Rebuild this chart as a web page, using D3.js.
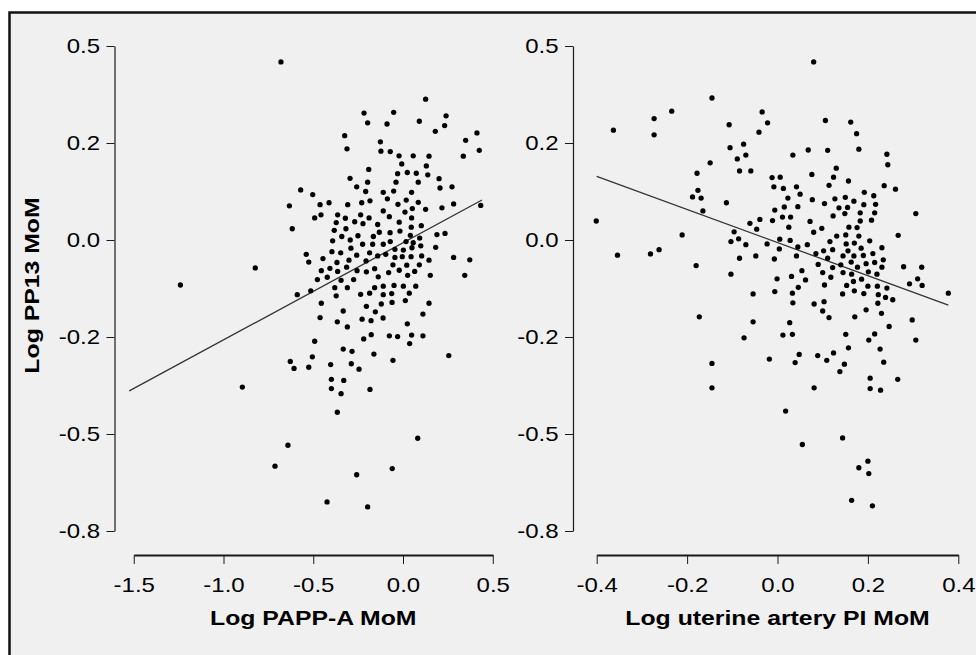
<!DOCTYPE html>
<html>
<head>
<meta charset="utf-8">
<script src="https://cdn.jsdelivr.net/npm/d3@7"></script>
<style>
  html, body { margin: 0; padding: 0; background: #fff; }
  svg { display: block; }
</style>
</head>
<body>
<script>
// Log PP13 MoM against log PAPP-A MoM: [x, y]
const pappaPoints = [
  [0.126,0.363],[-0.217,0.327],[-0.052,0.329],[-0.197,0.302],[-0.089,0.299],[0.091,0.306],[0.240,0.320],[0.232,0.295],
  [0.180,0.280],[0.412,0.276],[0.349,0.257],[0.425,0.231],[0.336,0.216],[-0.325,0.269],[-0.312,0.235],[-0.126,0.253],
  [-0.123,0.229],[-0.071,0.228],[-0.022,0.217],[0.057,0.217],[0.145,0.216],[-0.007,0.196],[0.130,0.191],[-0.191,0.182],
  [-0.030,0.171],[0.024,0.174],[0.074,0.172],[0.138,0.168],[-0.295,0.159],[-0.197,0.149],[-0.039,0.149],[0.085,0.149],
  [0.201,0.158],[-0.258,0.137],[0.206,0.134],[0.273,0.137],[-0.570,0.129],[-0.503,0.117],[-0.208,0.125],[-0.110,0.123],
  [-0.052,0.126],[0.048,0.123],[-0.633,0.088],[-0.462,0.091],[-0.412,0.096],[-0.308,0.091],[-0.230,0.096],[-0.184,0.101],
  [-0.087,0.106],[-0.028,0.092],[0.018,0.103],[0.085,0.097],[0.282,0.093],[0.217,0.083],[0.433,0.089],[0.052,0.081],
  [0.126,0.079],[-0.492,0.057],[-0.457,0.065],[-0.364,0.065],[-0.321,0.056],[-0.236,0.065],[-0.189,0.057],[-0.110,0.075],
  [-0.076,0.060],[0.011,0.072],[0.048,0.057],[-0.617,0.029],[-0.372,0.045],[-0.318,0.029],[-0.269,0.047],[-0.223,0.042],
  [-0.141,0.040],[-0.021,0.046],[0.046,0.033],[0.102,0.037],[-0.383,0.025],[-0.341,0.009],[-0.294,0.000],[-0.251,0.011],
  [-0.165,0.009],[-0.132,0.020],[-0.072,0.019],[-0.017,0.023],[0.041,0.012],[0.093,0.005],[0.189,0.014],[0.234,0.017],
  [-0.392,-0.002],[-0.225,-0.011],[-0.169,-0.011],[-0.110,-0.011],[-0.071,-0.004],[0.017,-0.004],[0.057,-0.007],[0.099,-0.015],
  [0.182,-0.019],[-0.396,-0.030],[-0.347,-0.033],[-0.290,-0.021],[-0.539,-0.037],[-0.525,-0.057],[-0.258,-0.039],[-0.186,-0.033],
  [-0.141,-0.041],[-0.096,-0.037],[-0.045,-0.024],[0.002,-0.026],[0.050,-0.020],[-0.045,-0.045],[-0.004,-0.043],[0.045,-0.043],
  [0.104,-0.041],[0.145,-0.052],[0.282,-0.045],[0.372,-0.051],[-0.823,-0.072],[-0.446,-0.048],[-0.368,-0.058],[-0.301,-0.052],
  [-0.206,-0.054],[-0.455,-0.079],[-0.407,-0.073],[-0.364,-0.081],[-0.314,-0.070],[-0.256,-0.079],[-0.204,-0.082],[-0.158,-0.074],
  [-0.056,-0.064],[0.021,-0.065],[0.091,-0.064],[-0.080,-0.084],[-0.021,-0.078],[0.026,-0.091],[0.065,-0.081],[0.152,-0.091],
  [0.344,-0.091],[-0.477,-0.102],[-0.422,-0.096],[-0.345,-0.104],[-0.275,-0.102],[-0.138,-0.095],[-0.514,-0.131],[-0.589,-0.141],
  [-0.380,-0.123],[-0.310,-0.123],[-0.158,-0.123],[-0.110,-0.119],[-0.050,-0.117],[0.002,-0.119],[0.071,-0.119],[-0.372,-0.144],
  [-0.236,-0.140],[-0.186,-0.137],[-0.110,-0.141],[-0.063,-0.138],[0.035,-0.137],[0.013,-0.156],[-0.455,-0.163],[-0.204,-0.171],
  [-0.121,-0.165],[-0.061,-0.161],[0.145,-0.163],[-0.333,-0.183],[-0.154,-0.185],[0.111,-0.191],[-0.462,-0.200],[-0.366,-0.211],
  [-0.228,-0.204],[-0.178,-0.208],[-0.111,-0.201],[-0.310,-0.224],[0.024,-0.216],[-0.492,-0.261],[-0.219,-0.255],[-0.177,-0.244],
  [-0.076,-0.247],[-0.030,-0.249],[0.048,-0.245],[0.111,-0.247],[0.037,-0.267],[-0.333,-0.281],[-0.284,-0.287],[-0.162,-0.294],
  [0.255,-0.298],[-0.628,-0.313],[-0.607,-0.331],[-0.525,-0.328],[-0.505,-0.301],[-0.403,-0.321],[-0.288,-0.319],[-0.245,-0.333],
  [-0.056,-0.310],[-0.399,-0.359],[-0.330,-0.362],[-0.399,-0.383],[-0.345,-0.396],[-0.184,-0.385],[-0.895,-0.379],[-0.366,-0.444],
  [0.082,-0.511],[-0.641,-0.529],[-0.713,-0.583],[-0.258,-0.605],[-0.060,-0.589],[-0.423,-0.675],[-0.197,-0.688],
  [-0.680,0.459],[-1.240,-0.116]
];

// Log PP13 MoM against log uterine artery PI MoM: [x, y]
const utpiPoints = [
  [0.080,0.459],[-0.145,0.366],[-0.234,0.332],[-0.273,0.313],[-0.273,0.271],[-0.363,0.283],[-0.034,0.330],[-0.022,0.302],
  [-0.041,0.278],[-0.107,0.297],[0.106,0.308],[0.162,0.304],[0.175,0.274],[-0.105,0.238],[-0.075,0.247],[-0.089,0.209],
  [-0.070,0.219],[-0.149,0.199],[-0.178,0.172],[-0.084,0.178],[-0.059,0.178],[-0.012,0.161],[0.006,0.162],[0.034,0.219],
  [0.068,0.232],[0.111,0.231],[0.180,0.234],[0.242,0.221],[0.244,0.194],[0.130,0.185],[0.076,0.169],[0.124,0.162],
  [0.157,0.152],[0.236,0.140],[0.261,0.131],[-0.008,0.137],[0.013,0.133],[0.042,0.137],[0.114,0.141],[-0.176,0.128],
  [-0.188,0.111],[-0.169,0.108],[-0.113,0.096],[-0.165,0.075],[0.023,0.108],[0.050,0.118],[0.045,0.086],[0.015,0.085],
  [-0.006,0.077],[0.077,0.104],[0.104,0.094],[0.127,0.106],[0.150,0.110],[0.169,0.100],[0.192,0.123],[0.213,0.114],
  [0.136,0.083],[0.155,0.084],[0.191,0.091],[0.217,0.092],[0.123,0.062],[0.149,0.068],[0.183,0.070],[0.215,0.070],
  [0.306,0.068],[-0.401,0.049],[-0.039,0.053],[-0.011,0.050],[0.011,0.059],[0.029,0.059],[0.072,0.048],[0.183,0.049],
  [0.208,0.051],[-0.061,0.043],[-0.046,0.028],[-0.096,0.021],[0.025,0.033],[0.098,0.030],[0.080,0.020],[0.158,0.033],
  [0.176,0.032],[-0.211,0.013],[-0.103,-0.004],[-0.086,0.003],[-0.070,-0.012],[-0.023,-0.010],[0.005,0.002],[0.028,-0.001],
  [0.045,-0.018],[0.066,-0.012],[0.116,-0.004],[0.131,0.010],[0.151,0.013],[0.180,0.010],[0.204,-0.002],[0.267,0.012],
  [0.170,-0.008],[0.152,-0.010],[0.185,-0.021],[0.231,-0.020],[-0.354,-0.039],[-0.281,-0.036],[-0.262,-0.025],[0.004,-0.023],
  [0.102,-0.028],[0.122,-0.025],[0.085,-0.035],[-0.048,-0.041],[-0.084,-0.047],[-0.007,-0.049],[0.042,-0.041],[0.111,-0.047],
  [0.145,-0.041],[0.169,-0.041],[0.190,-0.040],[0.211,-0.035],[0.234,-0.051],[0.156,-0.028],[-0.180,-0.066],[0.090,-0.063],
  [0.122,-0.071],[0.140,-0.064],[0.163,-0.057],[0.196,-0.061],[0.215,-0.058],[0.231,-0.070],[0.177,-0.070],[0.279,-0.069],
  [0.319,-0.070],[-0.103,-0.088],[0.054,-0.079],[0.031,-0.094],[-0.001,-0.100],[0.062,-0.103],[0.100,-0.084],[0.118,-0.096],
  [0.145,-0.084],[0.164,-0.088],[0.186,-0.101],[0.201,-0.082],[0.220,-0.088],[0.168,-0.107],[0.104,-0.116],[0.153,-0.117],
  [0.046,-0.122],[0.200,-0.119],[0.221,-0.119],[0.242,-0.124],[0.292,-0.113],[0.310,-0.100],[0.320,-0.117],[-0.054,-0.139],
  [-0.006,-0.133],[0.033,-0.137],[0.144,-0.139],[0.170,-0.131],[0.191,-0.138],[0.223,-0.141],[0.239,-0.148],[0.255,-0.154],
  [0.378,-0.137],[0.034,-0.162],[0.081,-0.165],[0.103,-0.159],[0.222,-0.163],[-0.173,-0.198],[-0.054,-0.211],[0.027,-0.213],
  [0.100,-0.183],[0.114,-0.200],[0.171,-0.198],[0.196,-0.180],[0.230,-0.189],[0.298,-0.206],[0.247,-0.223],[-0.074,-0.252],
  [0.012,-0.245],[0.033,-0.243],[0.151,-0.243],[0.215,-0.242],[0.202,-0.258],[0.306,-0.258],[0.157,-0.278],[0.227,-0.281],
  [-0.145,-0.318],[-0.018,-0.307],[0.048,-0.295],[0.039,-0.316],[0.089,-0.298],[0.109,-0.310],[0.124,-0.291],[0.148,-0.320],
  [0.138,-0.339],[0.235,-0.315],[0.205,-0.356],[0.266,-0.359],[-0.145,-0.381],[0.081,-0.381],[0.205,-0.383],[0.228,-0.387],
  [0.018,-0.441],[0.055,-0.527],[0.144,-0.510],[0.200,-0.570],[0.180,-0.587],[0.202,-0.602],[0.164,-0.671],[0.210,-0.685]
];

// Fitted regression lines, as end points [x, y]
const pappaFit = [[-1.525,-0.389],[0.440,0.103]];
const utpiFit = [[-0.400,0.164],[0.378,-0.168]];

// Axis ticks and their printed labels
const yTicks = [0.5, 0.25, 0, -0.25, -0.5, -0.75];
const yTickLabels = ["0.5", "0.2", "0.0", "-0.2", "-0.5", "-0.8"];
const pappaTicks = [-1.5, -1.0, -0.5, 0.0, 0.5];
const pappaTickLabels = ["-1.5", "-1.0", "-0.5", "0.0", "0.5"];
const utpiTicks = [-0.4, -0.2, 0.0, 0.2, 0.4];
const utpiTickLabels = ["-0.4", "-0.2", "0.0", "0.2", "0.4"];

const yTitle = "Log PP13 MoM";
const pappaTitle = "Log PAPP-A MoM";
const utpiTitle = "Log uterine artery PI MoM";

const W = 976, H = 655;
const FONT = "'Liberation Sans', Arial, Helvetica, sans-serif";
const STRETCH = 1.2;       // wide lettering of the labels
const TITLE_STRETCH = 1.24;

const svg = d3.select("body").append("svg")
  .attr("width", W).attr("height", H)
  .attr("viewBox", `0 0 ${W} ${H}`);

// framed grey panel
svg.append("rect")
  .attr("x", 9.5).attr("y", 12.5)
  .attr("width", W + 40).attr("height", H + 40)
  .attr("fill", "#f0f0f0")
  .attr("stroke", "#111").attr("stroke-width", 2.5);

const axisY = 555;
const y = d3.scaleLinear().domain([-0.75, 0.5]).range([531, 46]);

const panels = [
  { points: pappaPoints, fit: pappaFit, domain: [-1.5, 0.5], range: [133.75, 492.75],
    yAxisX: 114.5, ticks: pappaTicks, labels: pappaTickLabels, title: pappaTitle },
  { points: utpiPoints, fit: utpiFit, domain: [-0.4, 0.4], range: [596.7, 958.3],
    yAxisX: 573, ticks: utpiTicks, labels: utpiTickLabels, title: utpiTitle }
];

function styleAxis(sel, domainWidth) {
  sel.select(".domain").attr("stroke", "#1a1a1a").attr("stroke-width", domainWidth);
  sel.selectAll(".tick line").attr("stroke", "#1a1a1a").attr("stroke-width", 1);
  sel.selectAll(".tick text")
    .attr("fill", "#000")
    .style("font-family", FONT)
    .style("font-size", "20px")
    .attr("transform", `scale(${STRETCH},1)`);
}

panels.forEach(p => {
  const x = d3.scaleLinear().domain(p.domain).range(p.range);
  const g = svg.append("g");

  const yAx = g.append("g")
    .attr("transform", `translate(${p.yAxisX},0)`)
    .call(d3.axisLeft(y)
      .tickValues(yTicks)
      .tickFormat((d, i) => yTickLabels[i])
      .tickSize(8).tickSizeOuter(0).tickPadding(4));
  styleAxis(yAx, 1.2);

  const xAx = g.append("g")
    .attr("transform", `translate(0,${axisY})`)
    .call(d3.axisBottom(x)
      .tickValues(p.ticks)
      .tickFormat((d, i) => p.labels[i])
      .tickSize(9).tickSizeOuter(0).tickPadding(14));
  styleAxis(xAx, 2);

  g.append("text")
    .attr("transform", `translate(${(p.range[0] + p.range[1]) / 2},625) scale(${TITLE_STRETCH},1)`)
    .attr("text-anchor", "middle")
    .style("font-family", FONT).style("font-size", "20px").style("font-weight", "bold")
    .attr("fill", "#000")
    .text(p.title);

  g.append("path")
    .datum(p.fit)
    .attr("fill", "none")
    .attr("stroke", "#333")
    .attr("stroke-width", 1.3)
    .attr("d", d3.line().x(d => x(d[0])).y(d => y(d[1])));

  g.append("g").selectAll("circle")
    .data(p.points)
    .join("circle")
    .attr("cx", d => x(d[0]))
    .attr("cy", d => y(d[1]))
    .attr("r", 2.65)
    .attr("fill", "#000");
});

// shared y-axis title
svg.append("text")
  .attr("transform", `translate(39,285.5) rotate(-90) scale(${TITLE_STRETCH},1)`)
  .attr("text-anchor", "middle")
  .style("font-family", FONT).style("font-size", "20px").style("font-weight", "bold")
  .attr("fill", "#000")
  .text(yTitle);
</script>
</body>
</html>
